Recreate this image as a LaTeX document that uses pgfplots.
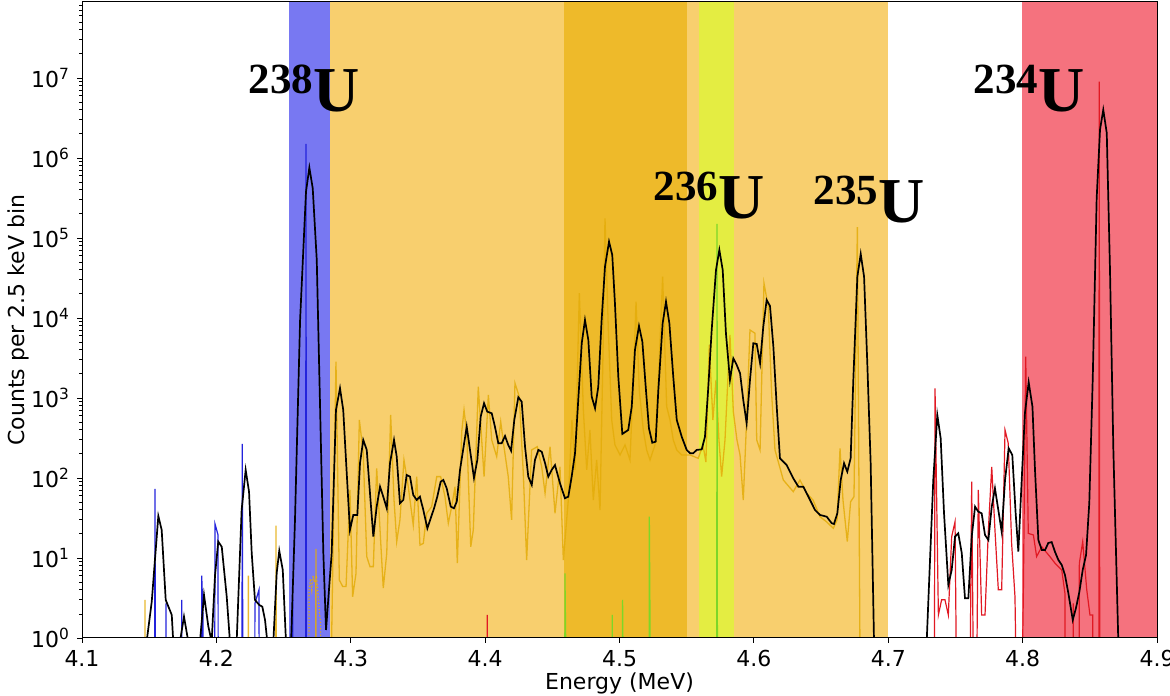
\documentclass[border=0pt]{standalone}
\usepackage{pgfplots}
\pgfplotsset{compat=1.18}
\usepackage{fontspec}
\setmainfont{DejaVu Sans}
\newfontfamily\tnr{Liberation Serif}
\definecolor{blueregion}{RGB}{120,120,242}
\definecolor{orangeregion}{RGB}{248,207,110}
\definecolor{darkregion}{RGB}{238,186,42}
\definecolor{yellowregion}{RGB}{228,237,66}
\definecolor{redregion}{RGB}{245,114,126}
\definecolor{goldline}{RGB}{228,172,10}
\definecolor{blueline}{RGB}{35,35,220}
\definecolor{redline}{RGB}{225,25,35}
\definecolor{greenline}{RGB}{125,215,40}
\newcommand{\iso}[1]{{\tnr\bfseries\raisebox{9pt}{\fontsize{21.5}{22}\selectfont #1}\fontsize{32}{32}\selectfont U}}
\begin{document}
\begin{tikzpicture}
\begin{axis}[
  scale only axis, width=537.5pt, height=318pt,
  xmin=4.1, xmax=4.9, ymode=log, log basis y=10, ymin=1, ymax=8.9e7,
  xtick={4.1,4.2,4.3,4.4,4.5,4.6,4.7,4.8,4.9},
  xticklabels={4.1,4.2,4.3,4.4,4.5,4.6,4.7,4.8,4.9},
  yticklabel={10\textsuperscript{\pgfmathparse{int(round(\tick))}\pgfmathresult}},
  /pgf/number format/assume math mode=true,
  tick align=outside, tick pos=left,
  major tick length=2.5pt, minor tick length=1.5pt,
  tick style={black, line width=0.4pt},
  ticklabel style={font=\fontsize{11}{12}\selectfont},
  axis line style={black, line width=0.5pt},
  xlabel={Energy (MeV)}, ylabel={Counts per 2.5 keV bin},
  label style={font=\fontsize{11}{12}\selectfont},
  xlabel style={at={(axis description cs:0.5,-0.0708)}, anchor=center},
  ylabel style={at={(axis description cs:-0.0595,0.5)}, anchor=center},
  axis on top,
]
% shaded regions
\addplot[draw=none, fill=blueregion, forget plot] coordinates {(4.2540,1e-3)(4.2540,1e9)(4.2846,1e9)(4.2846,1e-3)} -- cycle;
\addplot[draw=none, fill=orangeregion, forget plot] coordinates {(4.2846,1e-3)(4.2846,1e9)(4.7000,1e9)(4.7000,1e-3)} -- cycle;
\addplot[draw=none, fill=darkregion, forget plot] coordinates {(4.4590,1e-3)(4.4590,1e9)(4.5500,1e9)(4.5500,1e-3)} -- cycle;
\addplot[draw=none, fill=yellowregion, forget plot] coordinates {(4.5594,1e-3)(4.5594,1e9)(4.5852,1e9)(4.5852,1e-3)} -- cycle;
\addplot[draw=none, fill=redregion, forget plot] coordinates {(4.7998,1e-3)(4.7998,1e9)(4.9000,1e9)(4.9000,1e-3)} -- cycle;

% gold (noisy) spectrum
\addplot[goldline, line width=0.65pt, opacity=0.85] coordinates {
(4.1465,0.001)(4.1469,3.0)(4.1473,0.001)
(4.2234,0.001)(4.2238,6.0)(4.2242,0.001)
(4.2440,0.001)(4.2444,25.3)(4.2448,0.001)
(4.2737,0.001)(4.2741,13)(4.2745,0.001)
(4.2840,0.001)(4.2858,1.06)(4.2890,2840)(4.2915,5.3)(4.2940,4.4)(4.2965,4.4)(4.2994,70.8)(4.3014,3.28)(4.3039,6.4)(4.3064,531)(4.3093,204)(4.3119,10.4)(4.3143,7.8)(4.3168,7.8)(4.3193,132)(4.3218,22.4)(4.3242,4.2)(4.3268,11.5)(4.3297,613)(4.3322,53.1)(4.3342,16)(4.3366,29.9)(4.3396,168)(4.3428,77.9)(4.3465,25.8)(4.3491,104)(4.3515,14.5)(4.3540,15.2)(4.3565,36.2)(4.3602,43.8)(4.3640,104)(4.3669,104)(4.3701,58.4)(4.3726,27.2)(4.3751,43.8)(4.3776,77.9)(4.3793,8.6)(4.3826,379)(4.3843,708)(4.3863,362)(4.3893,13.8)(4.3912,22.4)(4.3949,1380)(4.3992,104)(4.4024,1090)(4.4049,299)(4.4086,185)(4.4116,506)(4.4140,246)(4.4172,104)(4.4197,29.9)(4.4222,1530)(4.4254,1040)(4.4284,115)(4.4309,9.4)(4.4346,224)(4.4388,246)(4.4421,138)(4.4446,64.5)(4.4483,246)(4.4520,36.2)(4.4557,138)(4.4582,9.4)(4.4619,53.1)(4.4646,531)(4.4669,126)(4.4701,2.04e4)(4.4731,708)(4.4756,126)(4.4780,398)(4.4805,53)(4.4830,168)(4.4855,39.8)(4.4879,5310)(4.4892,1.76e5)(4.4917,7080)(4.4942,531)(4.4966,259)(4.5004,194)(4.5041,259)(4.5078,168)(4.5103,1680)(4.5123,1.6e4)(4.5147,1260)(4.5177,398)(4.5202,224)(4.5227,168)(4.5264,259)(4.5296,2990)(4.5321,3.28e4)(4.5351,779)(4.5376,531)(4.5400,299)(4.5426,224)(4.5463,194)(4.5525,194)(4.5586,176)(4.5621,259)(4.5643,158)(4.5668,4600)(4.5695,531)(4.5718,1680)(4.5740,299)(4.5760,104)(4.5785,299)(4.5822,6130)(4.5847,674)(4.5874,299)(4.5897,194)(4.5921,53)(4.5946,531)(4.5971,7080)(4.6008,6440)(4.6021,299)(4.6046,224)(4.6075,2.72e4)(4.6107,1.38e4)(4.6132,1140)(4.6157,224)(4.6219,94.4)(4.6293,67.4)(4.6343,94.4)(4.6393,64.5)(4.6440,53)(4.6492,32.8)(4.6542,28.2)(4.6591,23.5)(4.6619,29.9)(4.6641,235)(4.6663,53)(4.6695,16)(4.6720,50.6)(4.6745,58.4)(4.6770,1.37e5)(4.6800,0.001)
};
\addplot[goldline, line width=0.6pt, densely dotted] coordinates {
(4.2680,0.001)(4.2690,4)(4.2700,5.5)(4.2710,4)(4.2720,6)(4.2730,5)(4.2745,6)(4.2760,3)(4.2775,1.5)(4.2790,0.001)
};
% blue spectrum
\addplot[blueline, line width=0.6pt] coordinates {
(4.1538,0.001)(4.1543,72.9)(4.1550,0.001)
(4.1620,0.001)(4.1625,2.7)(4.1632,0.001)
(4.1737,0.001)(4.1742,3.0)(4.1748,0.001)
(4.1885,0.001)(4.1891,6.0)(4.1900,2.0)(4.1905,0.001)
(4.1985,0.001)(4.1990,26.6)(4.2012,19.5)(4.2016,0.001)
(4.2188,0.001)(4.2193,266)(4.2200,0.001)
(4.2282,0.001)(4.2287,2.7)(4.2317,4.0)(4.2323,0.001)
(4.2562,0.001)(4.2568,3.0)(4.2575,0.001)
(4.2663,0.001)(4.2667,1.5e6)(4.2671,0.001)
};
% red spectrum
\addplot[redline, line width=0.6pt] coordinates {
(4.4012,0.001)(4.4016,1.94)(4.4020,0.001)
(4.7340,0.001)(4.7348,1320)(4.7373,1.94)(4.7397,3.0)(4.7422,3.0)(4.7447,1.94)(4.7472,18.5)(4.7497,28.4)(4.7521,0.001)(4.7596,0.001)(4.7621,89.9)(4.7646,0.001)(4.7670,70.8)(4.7695,1.94)(4.7720,1.94)(4.7745,22.4)(4.7770,138)(4.7794,22.4)(4.7819,4.0)(4.7844,4.0)(4.7869,398)(4.7893,271)(4.7918,15.3)(4.7943,3.28)(4.7975,0.001)(4.8005,3.28)(4.8023,3280)(4.8042,20.3)(4.8080,19.4)(4.8104,10.4)(4.8142,13.8)(4.8203,10.4)(4.8241,8.6)(4.8291,7.08)(4.8315,3.6)(4.8320,0.001)(4.8372,0.001)(4.8377,2.7)(4.8382,0.001)(4.8418,0.001)(4.8422,8.6)(4.8447,16)(4.8477,4.0)(4.8501,1.94)(4.8521,1.94)(4.8526,0.001)(4.8566,0.001)(4.8570,9.0e6)(4.8575,0.001)
};
% green spectrum
\addplot[greenline, line width=0.6pt] coordinates {
(4.4590,0.001)(4.4594,6.4)(4.4620,0.001)
(4.4942,0.001)(4.4946,1.94)(4.4950,0.001)
(4.5019,0.001)(4.5023,3.0)(4.5040,0.001)
(4.5218,0.001)(4.5222,32.8)(4.5240,0.001)
(4.5722,0.001)(4.5726,1.5e5)(4.5730,0.001)
};
% black smoothed spectrum
\addplot[black, line width=0.85pt] coordinates {
(4.1440,0.5)(4.1481,0.9)(4.1519,2.84)(4.1568,33.5)(4.1593,22.4)(4.1623,2.99)(4.1668,1.94)(4.1679,0.9)(4.1729,0.9)(4.1759,1.85)(4.1791,0.9)(4.1878,0.9)(4.1908,3.45)(4.1940,1.4)(4.1965,0.9)(4.1990,6.1)(4.2014,16)(4.2040,13.8)(4.2077,3.28)(4.2101,0.9)(4.2151,0.9)(4.2188,39.8)(4.2218,126)(4.2243,67.4)(4.2263,11.5)(4.2287,2.99)(4.2319,2.59)(4.2342,2.46)(4.2362,1.68)(4.2379,0.9)(4.2424,0.9)(4.2449,6.5)(4.2468,12.3)(4.2494,7.1)(4.2518,0.9)(4.2556,0.9)(4.2585,29.9)(4.2623,9440)(4.2667,3.79e5)(4.2692,7.57e5)(4.2717,4.18e5)(4.2747,5.31e4)(4.2771,866)(4.2796,11.5)(4.2816,1.26)
(4.2858,11.5)(4.2890,708)(4.2920,1322)(4.2944,708)(4.2970,115)(4.2994,22.4)(4.3019,34.5)(4.3049,34.5)(4.3069,154)(4.3093,299)(4.3119,224)(4.3143,64.9)(4.3168,18.5)(4.3193,43.8)(4.3218,77.9)(4.3242,58.4)(4.3268,41.8)(4.3292,153)(4.3322,299)(4.3342,185)(4.3366,48.3)(4.3391,53.1)(4.3416,109)(4.3441,104)(4.3465,61.3)(4.3491,53.1)(4.3515,58.4)(4.3540,39.8)(4.3570,23.5)(4.3595,31.4)(4.3620,41.8)(4.3644,58.4)(4.3669,89.9)(4.3689,94.4)(4.3714,74.3)(4.3744,43.8)(4.3768,41.8)(4.3789,50.6)(4.3813,126)(4.3863,438)(4.3917,100)(4.3942,168)(4.3967,584)(4.3992,859)(4.4016,674)(4.4049,644)(4.4073,438)(4.4098,271)(4.4123,271)(4.4148,335)(4.4172,259)(4.4193,219)(4.4217,531)(4.4247,1020)(4.4272,899)(4.4297,246)(4.4321,104)(4.4347,81.8)(4.4371,168)(4.4396,224)(4.4421,213)(4.4446,153)(4.4470,104)(4.4495,126)(4.4520,145)(4.4557,85.9)(4.4594,55.8)(4.4619,58.4)(4.4644,104)(4.4669,204)(4.4693,944)(4.4719,4830)(4.4743,9440)(4.4768,5310)(4.4793,1040)(4.4818,743)(4.4842,1380)(4.4867,9440)(4.4892,4.38e4)(4.4922,9.0e4)(4.4946,6.13e4)(4.4966,1.53e4)(4.4991,1850)(4.5021,355)(4.5065,398)(4.5091,779)(4.5115,3980)(4.5145,7940)(4.5170,5060)(4.5195,1380)(4.5219,418)(4.5244,276)(4.5269,284)(4.5289,1260)(4.5321,8590)(4.5346,1.6e4)(4.5371,8590)(4.5400,1850)(4.5426,531)(4.5463,328)(4.5500,224)(4.5525,204)(4.5549,204)(4.5574,224)(4.5612,228)(4.5636,328)(4.5661,1380)(4.5686,7080)(4.5718,3.98e4)(4.5743,7.08e4)(4.5768,3.98e4)(4.5792,6440)(4.5822,1680)(4.5847,3130)(4.5872,2590)(4.5897,2040)(4.5921,944)(4.5946,483)(4.5971,1680)(4.5996,4830)(4.6021,4730)(4.6046,2720)(4.6070,7790)(4.6095,1.68e4)(4.6120,1.41e4)(4.6145,4380)(4.6170,779)(4.6194,176)(4.6244,145)(4.6293,99.1)(4.6331,77.9)(4.6368,77.9)(4.6418,53.1)(4.6455,39.8)(4.6492,34.5)(4.6542,32.8)(4.6579,27.2)(4.6596,26.6)(4.6621,36.2)(4.6646,94.4)(4.6671,153)(4.6695,120)(4.6720,176)(4.6740,1680)(4.6770,3.28e4)(4.6795,6.31e4)(4.6820,3.28e4)(4.6844,2720)(4.6869,153)(4.6894,0.9)
(4.7286,0.9)(4.7335,94.4)(4.7365,613)(4.7390,314)(4.7415,36.2)(4.7447,4.6)(4.7472,7.08)(4.7497,18.5)(4.7521,20.3)(4.7547,11.5)(4.7571,3.13)(4.7596,3.13)(4.7621,18.5)(4.7646,43.8)(4.7670,37.9)(4.7695,36.2)(4.7720,19.4)(4.7745,16.8)(4.7770,43.8)(4.7794,74.3)(4.7819,39.8)(4.7844,21.3)(4.7869,94.4)(4.7896,235)(4.7923,194)(4.7948,36.2)(4.7968,12)(4.7993,94.4)(4.8017,649)(4.8045,1570)(4.8073,779)(4.8092,126)(4.8117,16.8)(4.8142,12.6)(4.8167,12.6)(4.8191,15.4)(4.8216,15.8)(4.8241,11.9)(4.8266,9.44)(4.8291,8.18)(4.8315,6.13)(4.8340,3.65)(4.8373,1.68)(4.8397,2.37)(4.8422,3.76)(4.8447,7.08)(4.8472,10.9)(4.8496,48.7)(4.8522,1830)(4.8551,3.16e5)(4.8576,2.27e6)(4.8600,4.0e6)(4.8626,2.05e6)(4.8650,4.03e4)(4.8675,230)(4.8712,0.9)(4.8750,0.5)
};
% isotope labels
\node[anchor=south west, inner sep=0pt] at (axis cs:4.2238,3.68e6) {\iso{238}};
\node[anchor=south west, inner sep=0pt] at (axis cs:4.5252,1.68e5) {\iso{236}};
\node[anchor=south west, inner sep=0pt] at (axis cs:4.6442,1.5e5) {\iso{235}};
\node[anchor=south west, inner sep=0pt] at (axis cs:4.7633,3.68e6) {\iso{234}};
\end{axis}
\pgfresetboundingbox
\useasboundingbox ([xshift=-41pt,yshift=-29pt]current axis.south west) rectangle ([xshift=6.5pt,yshift=1pt]current axis.north east);
\end{tikzpicture}
\end{document}
